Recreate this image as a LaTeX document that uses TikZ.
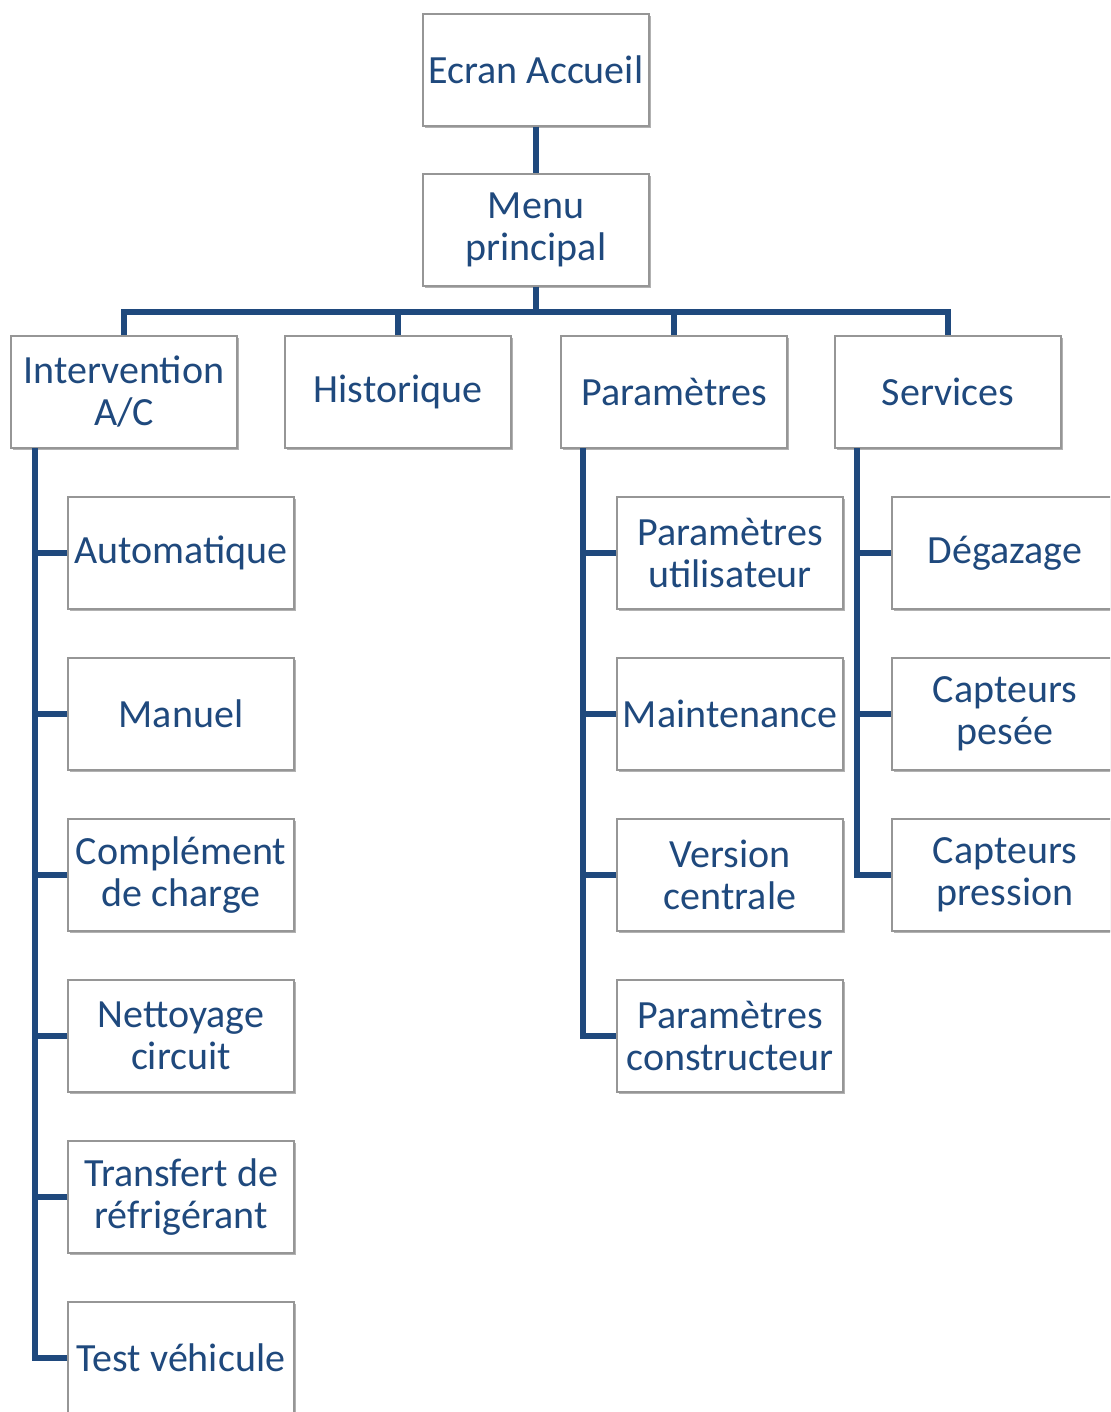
\documentclass[tikz,border=0pt]{standalone}
\usepackage{fontspec}
\setmainfont{Carlito}
\usepackage{tikz}
\usetikzlibrary{shadows}

\definecolor{menublue}{RGB}{31,73,125}
\definecolor{boxgray}{RGB}{150,150,150}

\tikzset{
  screen/.style={draw=boxgray, line width=0.6pt, fill=white, text=menublue,
    minimum width=113pt, minimum height=56pt, align=center, inner sep=1pt,
    font=\fontsize{20}{21}\selectfont,
    drop shadow={shadow xshift=1.2pt, shadow yshift=-1.2pt, opacity=0.3, fill=black}},
  link/.style={draw=menublue, line width=2.6pt}
}

\begin{document}
\begin{tikzpicture}[x=0.5pt,y=-0.5pt]
         \useasboundingbox (0,0) rectangle (1110,1412);
         \clip (0,0) rectangle (1110,1412);

         % top of the tree
         \node[screen] (accueil) at (536,70) {Ecran Accueil};
         \node[screen] (menu) at (536,230) {Menu\\principal};

         \node[screen] (interv) at (124,392) {Intervention\\A/C};
         \node[screen] (histo) at (398,392) {Historique};
         \node[screen] (param) at (674,392) {Paramètres};
         \node[screen] (serv) at (948,392) {Services};

         % Intervention A/C
         \node[screen] (auto) at (181,553) {Automatique};
         \node[screen] (manuel) at (181,714) {Manuel};
         \node[screen] (complt) at (181,875) {Complément\\de charge};
         \node[screen] (nettoy) at (181,1036) {Nettoyage\\circuit};
         \node[screen] (transf) at (181,1197) {Transfert de\\réfrigérant};
         \node[screen] (testv) at (181,1358) {Test véhicule};

         % Paramètres
         \node[screen] (putil) at (730,553) {Paramètres\\utilisateur};
         \node[screen] (maint) at (730,714) {Maintenance};
         \node[screen] (version) at (730,875) {Version\\centrale};
         \node[screen] (pconst) at (730,1036) {Paramètres\\constructeur};

         % Services
         \node[screen] (degaz) at (1005,553) {Dégazage};
         \node[screen] (cpesee) at (1005,714) {Capteurs\\pesée};
         \node[screen] (cpress) at (1005,875) {Capteurs\\pression};

         \coordinate (bus) at (536,312);
         \coordinate (itrunk) at (35,448);
         \coordinate (ptrunk) at (583,448);
         \coordinate (strunk) at (857,448);

         \draw[link] (accueil.south) -- (menu.north);
         \draw[link] (menu.south) -- (bus);
         \draw[link] (interv.north) |- (bus) -| (serv.north);
         \draw[link] (histo.north) -- (histo.north |- bus);
         \draw[link] (param.north) -- (param.north |- bus);

         \draw[link] (itrunk) |- (testv.west);
         \draw[link] (auto.west) -- (auto.west -| itrunk);
         \draw[link] (manuel.west) -- (manuel.west -| itrunk);
         \draw[link] (complt.west) -- (complt.west -| itrunk);
         \draw[link] (nettoy.west) -- (nettoy.west -| itrunk);
         \draw[link] (transf.west) -- (transf.west -| itrunk);

         \draw[link] (ptrunk) |- (pconst.west);
         \draw[link] (putil.west) -- (putil.west -| ptrunk);
         \draw[link] (maint.west) -- (maint.west -| ptrunk);
         \draw[link] (version.west) -- (version.west -| ptrunk);

         \draw[link] (strunk) |- (cpress.west);
         \draw[link] (degaz.west) -- (degaz.west -| strunk);
         \draw[link] (cpesee.west) -- (cpesee.west -| strunk);
      \end{tikzpicture}
\end{document}
